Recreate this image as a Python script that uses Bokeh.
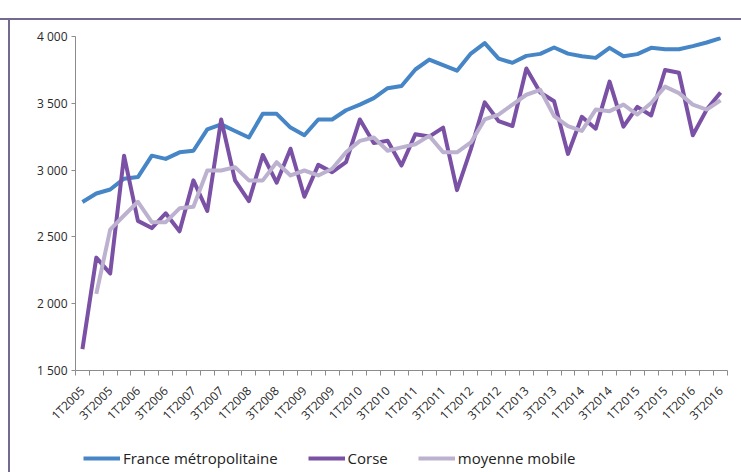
import math
import numpy as np
from bokeh.plotting import figure
from bokeh.layouts import column
from bokeh.models import FixedTicker, Legend, LegendItem, Range1d
from bokeh.embed import file_html
from bokeh.resources import INLINE

# ---- data (quarterly, 1T2005 .. 3T2016) ----
quarters = [f"{q}T{y}" for y in range(2005, 2017) for q in (1, 2, 3, 4)][:47]

france = [2761, 2825, 2855, 2936, 2948, 3108, 3084, 3133, 3145, 3305,
          3342, 3293, 3244, 3421, 3421, 3318, 3261, 3379, 3379, 3448,
          3490, 3539, 3613, 3630, 3753, 3827, 3786, 3744, 3872, 3951,
          3835, 3803, 3855, 3870, 3918, 3872, 3852, 3840, 3915, 3852,
          3868, 3915, 3905, 3905, 3928, 3955, 3988]

corse = [1660, 2345, 2226, 3108, 2620, 2566, 2677, 2542, 2923, 2694,
         3379, 2923, 2768, 3113, 2906, 3160, 2800, 3039, 2985, 3059,
         3379, 3202, 3219, 3034, 3268, 3251, 3318, 2850, 3157, 3507,
         3367, 3330, 3761, 3581, 3515, 3121, 3399, 3310, 3662, 3325,
         3473, 3409, 3749, 3729, 3261, 3453, 3581]

moyenne = [float("nan"), 2074, 2554, 2660, 2763, 2610, 2610, 2714, 2726, 2997,
           2997, 3022, 2923, 2923, 3059, 2960, 2997, 2960, 3010, 3133,
           3219, 3244, 3145, 3170, 3194, 3256, 3133, 3133, 3207, 3379,
           3416, 3490, 3564, 3601, 3404, 3330, 3293, 3453, 3441, 3490,
           3416, 3502, 3625, 3576, 3490, 3453, 3522]

series_names = ["France métropolitaine", "Corse", "moyenne mobile"]
series_colors = ["#4685c6", "#7b51a6", "#bcb2cf"]
y_ticks = [1500, 2000, 2500, 3000, 3500, 4000]
y_tick_labels = ["1 500", "2 000", "2 500", "3 000", "3 500", "4 000"]

x = np.arange(len(quarters))
series = [np.array(v, dtype=float) for v in (france, corse, moyenne)]
axis_col = "#8c8c8c"
font = "Open Sans"
frame_col = "#74698f"

# ---- main chart ----
p = figure(width=741, height=432, output_backend="svg", toolbar_location=None,
           x_range=Range1d(-0.5, len(quarters) - 0.5), y_range=Range1d(1500, 4000),
           min_border_left=75, min_border_right=14, min_border_top=36, min_border_bottom=57)
p.background_fill_color = "white"
p.border_fill_color = None
p.outline_line_color = None
p.xgrid.visible = False
p.ygrid.visible = False

for vals, col in zip(series, series_colors):
    p.line(x, vals, line_color=col, line_width=4, line_join="round")

xa = p.xaxis[0]
xa.ticker = FixedTicker(ticks=list(range(0, len(quarters), 2)),
                        minor_ticks=[i - 0.5 for i in range(len(quarters) + 1)])
xa.major_label_overrides = {i: quarters[i] for i in range(0, len(quarters), 2)}
xa.major_label_orientation = math.pi / 4
xa.major_tick_out = 0
xa.major_tick_in = 0
xa.minor_tick_out = 5
xa.minor_tick_in = 0
xa.minor_tick_line_color = axis_col
xa.axis_line_color = axis_col
xa.major_label_standoff = 13
xa.major_label_text_font = font
xa.major_label_text_font_size = "12px"
xa.major_label_text_color = "#2a2a2a"

ya = p.yaxis[0]
ya.ticker = FixedTicker(ticks=y_ticks)
ya.major_label_overrides = {v: l for v, l in zip(y_ticks, y_tick_labels)}
ya.major_tick_out = 4
ya.major_tick_in = 0
ya.major_tick_line_color = axis_col
ya.minor_tick_line_color = None
ya.axis_line_color = axis_col
ya.major_label_standoff = 4
ya.major_label_text_font = font
ya.major_label_text_font_size = "12px"
ya.major_label_text_color = "#2a2a2a"

# ---- legend strip (same series, drawn outside its visible range) ----
lf = figure(width=741, height=40, output_backend="svg", toolbar_location=None,
            x_range=Range1d(-0.5, len(quarters) - 0.5), y_range=Range1d(0, 1),
            x_axis_location=None, y_axis_location=None, min_border=0)
lf.background_fill_color = None
lf.border_fill_color = None
lf.outline_line_color = None
lf.xgrid.visible = False
lf.ygrid.visible = False
items = []
for name, vals, col in zip(series_names, series, series_colors):
    r = lf.line(x, vals, line_color=col, line_width=4)
    items.append(LegendItem(label=name, renderers=[r]))

legend = Legend(items=items, location=(8, 4), orientation="horizontal")
legend.padding = 0
legend.margin = 0
legend.spacing = 30
legend.glyph_width = 37
legend.glyph_height = 16
legend.label_height = 16
legend.label_standoff = 3
legend.label_text_font = font
legend.label_text_font_size = "15px"
legend.label_text_color = "#222222"
legend.border_line_alpha = 0
legend.background_fill_alpha = 0
lf.add_layout(legend, "center")

layout = column(p, lf, spacing=0)
layout.styles = {"background": (f"linear-gradient({frame_col}, {frame_col}) 0px 18px / 100% 2px no-repeat, "
                                f"linear-gradient({frame_col}, {frame_col}) 8px 18px / 2px 100% no-repeat, "
                                "#ffffff")}

open("out.html", "w").write(file_html(layout, INLINE))
